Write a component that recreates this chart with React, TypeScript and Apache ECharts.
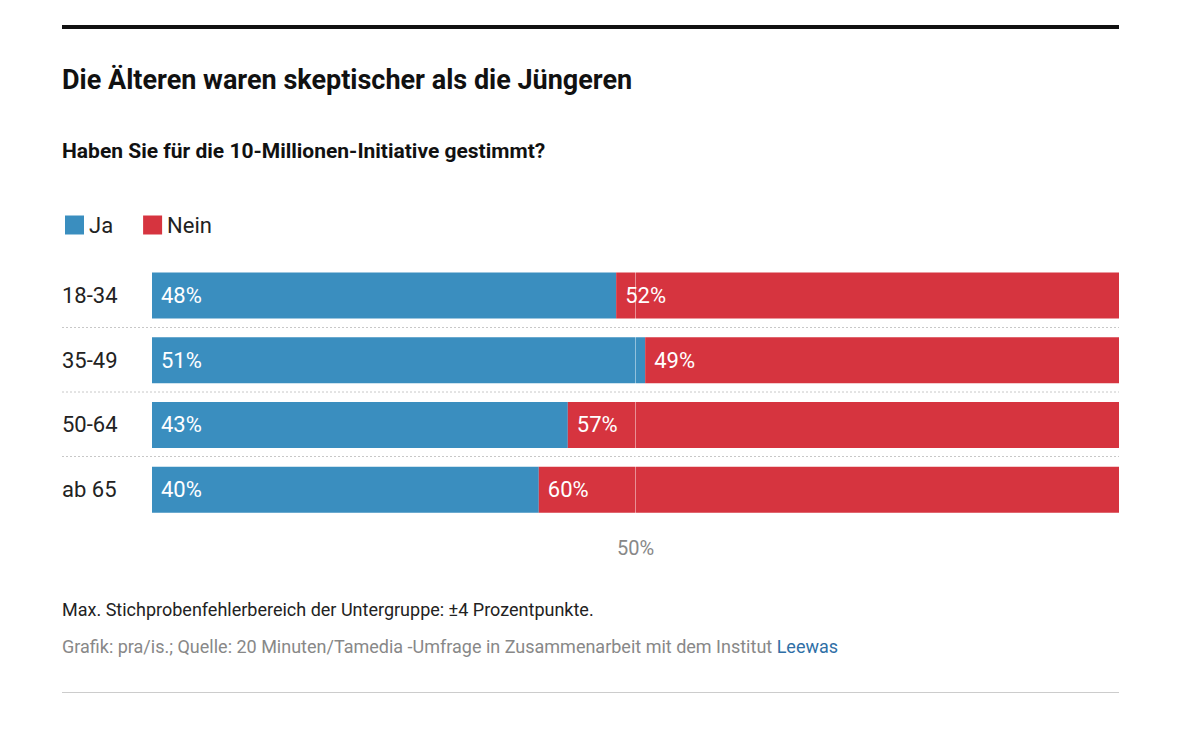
import * as echarts from "echarts";
import { useEffect, useRef } from "react";

const categories = ["18-34", "35-49", "50-64", "ab 65"];
const ja = [48, 51, 43, 40];
const nein = [52, 49, 57, 60];
const font = "Roboto";

export default function App() {
  const ref = useRef<HTMLDivElement>(null);
  useEffect(() => {
    document.body.style.margin = "0";
    if (!ref.current) return;
    const chart = echarts.init(ref.current, null, { renderer: "svg" });
    const sep = [327.5, 392, 456.5].map((y) => ({
      type: "line",
      shape: { x1: 62, y1: y, x2: 1119, y2: y },
      style: { stroke: "#c8c8c8", lineWidth: 1, lineDash: [2, 2] },
    }));
    chart.setOption({
      animation: false,
      textStyle: { fontFamily: font },
      legend: {
        left: 60,
        top: 209,
        icon: "rect",
        itemWidth: 19,
        itemHeight: 19,
        itemGap: 30,
        textStyle: { fontSize: 22, color: "#222", fontFamily: font },
        data: ["Ja", "Nein"],
      },
      grid: { left: 152, right: 81, top: 263, height: 259 },
      xAxis: {
        type: "value",
        min: 0,
        max: 100,
        interval: 50,
        axisLine: { show: false },
        axisTick: { show: false },
        splitLine: { show: false },
        axisLabel: {
          margin: 16,
          fontSize: 20,
          color: "#888",
          formatter: (v: number) => (v === 50 ? "50%" : ""),
        },
      },
      yAxis: {
        type: "category",
        inverse: true,
        data: categories,
        axisLine: { show: false },
        axisTick: { show: false },
        axisLabel: { margin: 90, align: "left", fontSize: 22, color: "#222" },
      },
      series: [
        {
          name: "Ja",
          type: "bar",
          stack: "t",
          barWidth: 46,
          data: ja,
          itemStyle: { color: "#3a8ebf" },
          label: { show: true, position: "insideLeft", offset: [4, 0], formatter: "{c}%", color: "#fff", fontSize: 22 },
          markLine: {
            silent: true,
            symbol: "none",
            label: { show: false },
            lineStyle: { color: "rgba(255,255,255,0.45)", type: "solid", width: 1 },
            data: [{ xAxis: 50 }],
          },
        },
        {
          name: "Nein",
          type: "bar",
          stack: "t",
          barWidth: 46,
          data: nein,
          itemStyle: { color: "#d6343f" },
          label: { show: true, position: "insideLeft", offset: [4, 0], formatter: "{c}%", color: "#fff", fontSize: 22 },
        },
      ],
      graphic: [
        { type: "rect", shape: { x: 62, y: 25, width: 1057, height: 4 }, style: { fill: "#111" } },
        { type: "text", x: 62, y: 66, style: { text: "Die Älteren waren skeptischer als die Jüngeren", font: `bold 27px ${font}`, fill: "#111" } },
        { type: "text", x: 62, y: 140, style: { text: "Haben Sie für die 10-Millionen-Initiative gestimmt?", font: `bold 21px ${font}`, fill: "#111" } },
        ...sep,
        { type: "text", x: 62, y: 600, style: { text: "Max. Stichprobenfehlerbereich der Untergruppe: ±4 Prozentpunkte.", font: `18px ${font}`, fill: "#222" } },
        {
          type: "text",
          x: 62,
          y: 637,
          style: {
            text: "Grafik: pra/is.; Quelle: 20 Minuten/Tamedia -Umfrage in Zusammenarbeit mit dem Institut {l|Leewas}",
            font: `18px ${font}`,
            fill: "#888",
            rich: { l: { fill: "#2f6fa6", fontSize: 18, fontFamily: font } },
          },
        },
        { type: "rect", shape: { x: 62, y: 692, width: 1057, height: 1 }, style: { fill: "#ccc" } },
      ],
    });
    return () => chart.dispose();
  }, []);
  return <div ref={ref} style={{ width: 1200, height: 731 }} />;
}
